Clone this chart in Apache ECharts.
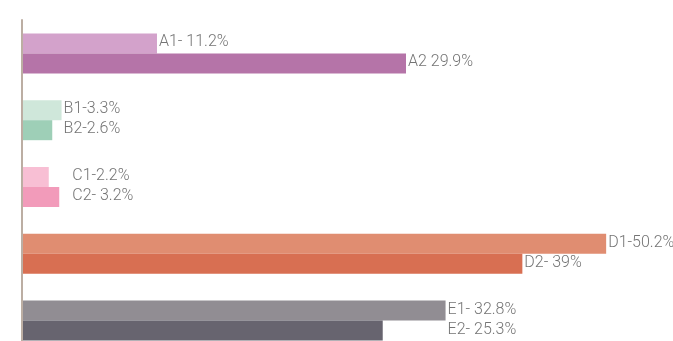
<!DOCTYPE html>
<html>
<head>
<meta charset="utf-8">
<script src="https://cdn.jsdelivr.net/npm/echarts@6/dist/echarts.min.js"></script>
<style>
  html, body { margin: 0; padding: 0; background: #fff; overflow: hidden; }
  #chart { width: 673px; height: 360px; }
</style>
</head>
<body>
<div id="chart"></div>
<script>
// groups, top to bottom
const groups = ["A", "B", "C", "D", "E"];

// bar lengths as drawn (same units as the labels)
const firstBars = [11.6, 3.4, 2.3, 50.2, 36.4];
const secondBars = [33.0, 2.6, 3.2, 43.0, 31.0];

// label texts as printed next to the bars
const firstLabels = ["A1- 11.2%", "B1-3.3%", "C1-2.2%", "D1-50.2%", "E1- 32.8%"];
const secondLabels = ["A2 29.9%", "B2-2.6%", "C2- 3.2%", "D2- 39%", "E2- 25.3%"];

const firstColors = ["#d3a2cb", "#cfe7da", "#f8bfd4", "#e08d71", "#918d93"];
const secondColors = ["#b574a8", "#9ecfb7", "#f29bba", "#d86f52", "#67646f"];

const xMax = 55;
const plotWidth = 640;
const pxPerUnit = plotWidth / xMax;

// in these groups both labels line up after the longer bar (+ extra px)
const alignedGroups = {B: 0, C: 11, E: 0};

function makeData(values, labels, colors) {
	return values.map((v, i) => {
		const g = groups[i];
		let shift = 0;
		if (g in alignedGroups) {
			const longest = Math.max(firstBars[i], secondBars[i]);
			shift = (longest - v) * pxPerUnit + alignedGroups[g];
		}
		return {
			value: v,
			itemStyle: {color: colors[i]},
			label: {formatter: labels[i], offset: [shift, -1]}
		};
	});
}

const labelStyle = {
	show: true,
	position: "right",
	distance: 2,
	color: "#747474",
	fontFamily: "Roboto, Liberation Sans, sans-serif",
	fontWeight: 300,
	fontSize: 16
};

const chart = echarts.init(document.getElementById("chart"));
chart.setOption({
	animation: false,
	grid: {left: 22, top: 20, width: plotWidth, height: 334},
	xAxis: {
		type: "value",
		min: 0,
		max: xMax,
		show: false
	},
	yAxis: {
		type: "category",
		data: groups,
		inverse: true,
		z: 5,
		axisLine: {show: true, lineStyle: {color: "#bcaea3", width: 2}},
		axisTick: {show: false},
		axisLabel: {show: false},
		splitLine: {show: false}
	},
	series: [
		{
			type: "bar",
			barWidth: 20,
			barGap: "0%",
			label: labelStyle,
			data: makeData(firstBars, firstLabels, firstColors)
		},
		{
			type: "bar",
			barWidth: 20,
			barGap: "0%",
			label: labelStyle,
			data: makeData(secondBars, secondLabels, secondColors)
		}
	]
});
</script>
</body>
</html>
